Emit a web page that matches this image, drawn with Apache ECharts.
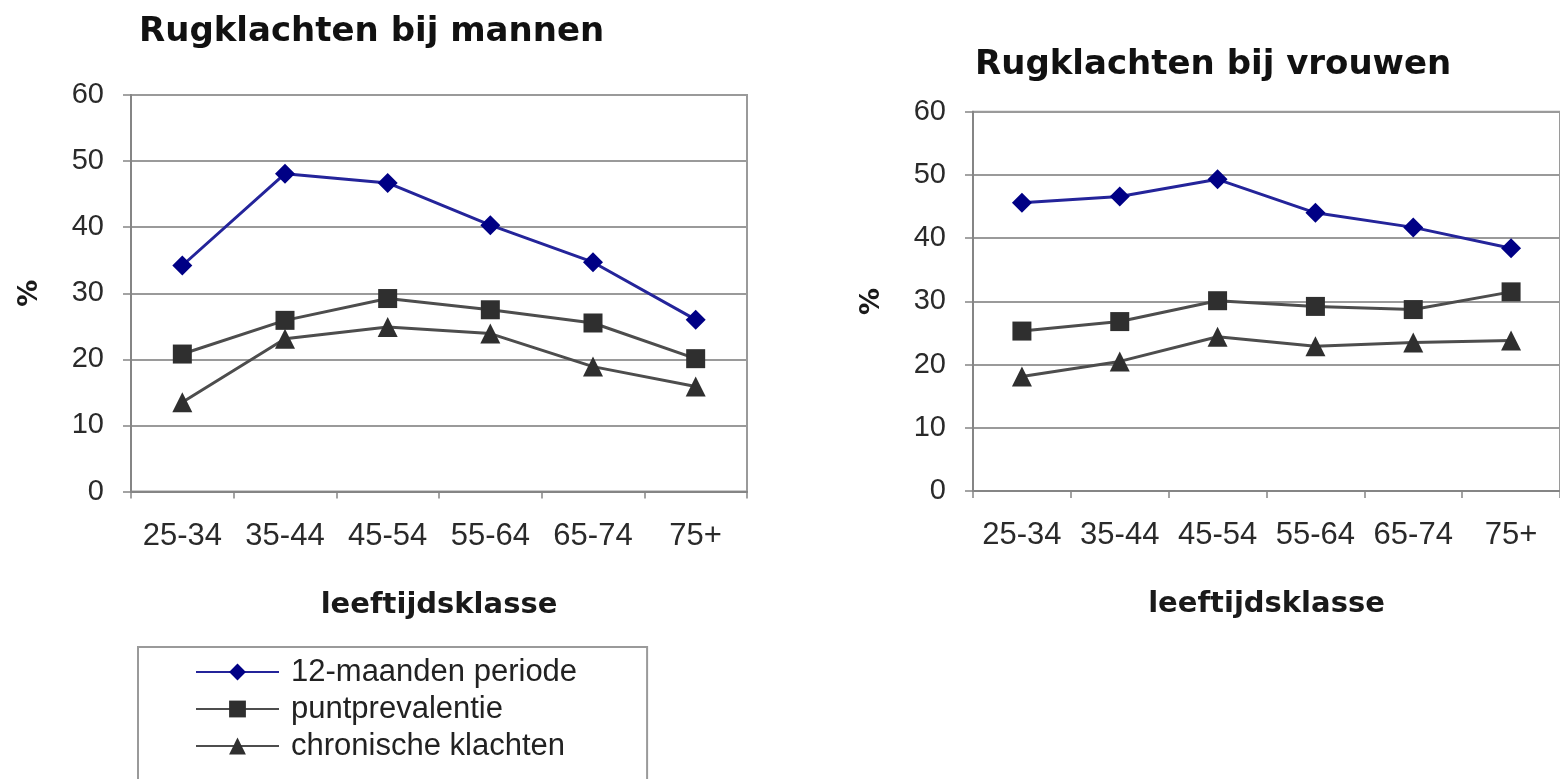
<!DOCTYPE html>
<html>
<head>
<meta charset="utf-8">
<script src="https://cdn.jsdelivr.net/npm/echarts@6/dist/echarts.min.js"></script>
<style>
  html, body { margin: 0; padding: 0; background: #fff; }
  #chart { width: 1560px; height: 779px; }
</style>
</head>
<body>
<div id="chart"></div>
<script>
// age classes on the x axis
const categories = ['25-34', '35-44', '45-54', '55-64', '65-74', '75+']

// men (%)
const men12m = [34.2, 48.1, 46.7, 40.3, 34.7, 26.0]
const menPoint = [20.8, 25.9, 29.2, 27.5, 25.5, 20.1]
const menChronic = [13.5, 23.1, 24.9, 23.9, 18.9, 15.9]

// women (%)
const women12m = [45.6, 46.6, 49.3, 44.0, 41.7, 38.4]
const womenPoint = [25.3, 26.8, 30.1, 29.2, 28.7, 31.5]
const womenChronic = [18.1, 20.5, 24.4, 22.9, 23.5, 23.8]

const seriesNames = ['12-maanden periode', 'puntprevalentie', 'chronische klachten']

const gridColor = '#9a9a9a'
const axisColor = '#858585'
const sans = '"Liberation Sans", Arial, sans-serif'
const boldSans = '"DejaVu Sans", sans-serif'

const makeXAxis = (gridIndex) => ({
    type: 'category',
    gridIndex,
    data: categories,
    boundaryGap: true,
    name: 'leeftijdsklasse',
    nameLocation: 'middle',
    nameGap: 99,
    nameTextStyle: { fontFamily: boldSans, fontWeight: 'bold', fontSize: 29, color: '#1a1a1a' },
    axisLine: { show: true, lineStyle: { color: axisColor, width: 2 } },
    axisTick: { show: true, length: 7, interval: 0, lineStyle: { color: axisColor, width: 1.5 } },
    axisLabel: { interval: 0, fontFamily: sans, fontSize: 31, color: '#2a2a2a', margin: 29 },
    splitLine: { show: false },
})

const makeYAxis = (gridIndex) => ({
    type: 'value',
    gridIndex,
    min: 0,
    max: 60,
    interval: 10,
    name: '%',
    nameLocation: 'middle',
    nameGap: 88,
    nameRotate: 90,
    nameTextStyle: { fontFamily: boldSans, fontWeight: 'bold', fontSize: 27, color: '#1a1a1a' },
    axisLine: { show: true, lineStyle: { color: axisColor, width: 2 } },
    axisTick: { show: true, length: 8, lineStyle: { color: axisColor, width: 1.5 } },
    axisLabel: { fontFamily: sans, fontSize: 29, color: '#2a2a2a', margin: 27 },
    splitLine: { show: true, lineStyle: { color: gridColor, width: 2 } },
})

const blue = { line: '#24249a', mark: '#000085' }
const grey = { line: '#4d4d4d', mark: '#2f2f2f' }

const makeSeries = (name, data, idx, symbol, col, size) => ({
    name,
    type: 'line',
    xAxisIndex: idx,
    yAxisIndex: idx,
    data,
    symbol,
    symbolSize: size,
    showAllSymbol: true,
    lineStyle: { color: col.line, width: 3 },
    itemStyle: { color: col.mark, borderWidth: 0 },
    emphasis: { disabled: true },
})

const option = {
    backgroundColor: '#ffffff',
    animation: false,
    title: [
        {
            text: 'Rugklachten bij mannen',
            left: 134,
            top: 10,
            textStyle: { fontFamily: boldSans, fontWeight: 'bold', fontSize: 34, color: '#111' },
        },
        {
            text: 'Rugklachten bij vrouwen',
            left: 970,
            top: 43,
            textStyle: { fontFamily: boldSans, fontWeight: 'bold', fontSize: 34, color: '#111' },
        },
    ],
    legend: {
        orient: 'vertical',
        left: 138,
        top: 647,
        height: 200,
        padding: [9, 70, 30, 57],
        itemWidth: 83,
        itemHeight: 21,
        itemGap: 5,
        borderColor: '#9a9a9a',
        borderWidth: 2,
        data: seriesNames,
        textStyle: { fontFamily: sans, fontSize: 31, color: '#222', lineHeight: 32, padding: [0, 0, 0, 7] },
    },
    grid: [
        { left: 131, top: 95, width: 616, height: 396.5, show: true, borderColor: gridColor, borderWidth: 2, backgroundColor: '#fff' },
        { left: 973, top: 111.7, width: 592, height: 379.3, show: true, borderColor: gridColor, borderWidth: 2, backgroundColor: '#fff' },
    ],
    xAxis: [makeXAxis(0), makeXAxis(1)],
    yAxis: [makeYAxis(0), makeYAxis(1)],
    series: [
        makeSeries(seriesNames[0], men12m, 0, 'diamond', blue, 20),
        makeSeries(seriesNames[1], menPoint, 0, 'rect', grey, 19),
        makeSeries(seriesNames[2], menChronic, 0, 'triangle', grey, 20),
        makeSeries(seriesNames[0], women12m, 1, 'diamond', blue, 20),
        makeSeries(seriesNames[1], womenPoint, 1, 'rect', grey, 19),
        makeSeries(seriesNames[2], womenChronic, 1, 'triangle', grey, 20),
    ],
}

const chart = echarts.init(document.getElementById('chart'))
chart.setOption(option)
window.addEventListener('resize', () => chart.resize())
</script>
</body>
</html>
